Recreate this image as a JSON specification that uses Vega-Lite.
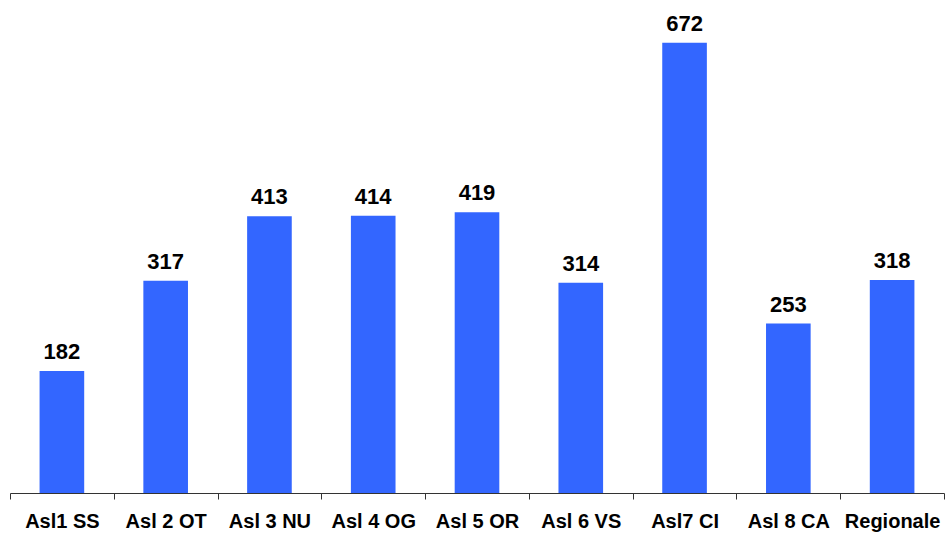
{
  "$schema": "https://vega.github.io/schema/vega-lite/v6.json",
  "width": 934,
  "height": 493,
  "autosize": {"type": "none"},
  "padding": {"left": 10, "top": 0, "right": 1, "bottom": 43},
  "background": "white",
  "config": {"view": {"stroke": null}},
  "data": {
    "values": [
      {"asl": "Asl1 SS", "v": 182},
      {"asl": "Asl 2 OT", "v": 317},
      {"asl": "Asl 3 NU", "v": 413},
      {"asl": "Asl 4 OG", "v": 414},
      {"asl": "Asl 5 OR", "v": 419},
      {"asl": "Asl 6 VS", "v": 314},
      {"asl": "Asl7 CI", "v": 672},
      {"asl": "Asl 8 CA", "v": 253},
      {"asl": "Regionale", "v": 318}
    ]
  },
  "encoding": {
    "x": {
      "field": "asl",
      "type": "nominal",
      "sort": null,
      "scale": {"paddingInner": 0, "paddingOuter": 0},
      "axis": {
        "title": null,
        "labelAngle": 0,
        "labelFont": "Liberation Sans",
        "labelFontSize": 20,
        "labelFontWeight": "bold",
        "labelColor": "black",
        "labelPadding": 12,
        "ticks": true,
        "tickBand": "extent",
        "tickSize": 6,
        "tickWidth": 1,
        "tickColor": "#333333",
        "domainColor": "#333333",
        "grid": false
      }
    },
    "y": {
      "field": "v",
      "type": "quantitative",
      "scale": {"domain": [0, 736], "nice": false},
      "axis": null
    }
  },
  "layer": [
    {"mark": {"type": "bar", "color": "#3366FF", "width": {"band": 0.43}}},
    {
      "mark": {
        "type": "text",
        "baseline": "alphabetic",
        "dy": -12,
        "font": "Liberation Sans",
        "fontSize": 22,
        "fontWeight": "bold",
        "color": "black"
      },
      "encoding": {"text": {"field": "v", "type": "quantitative"}}
    }
  ]
}
